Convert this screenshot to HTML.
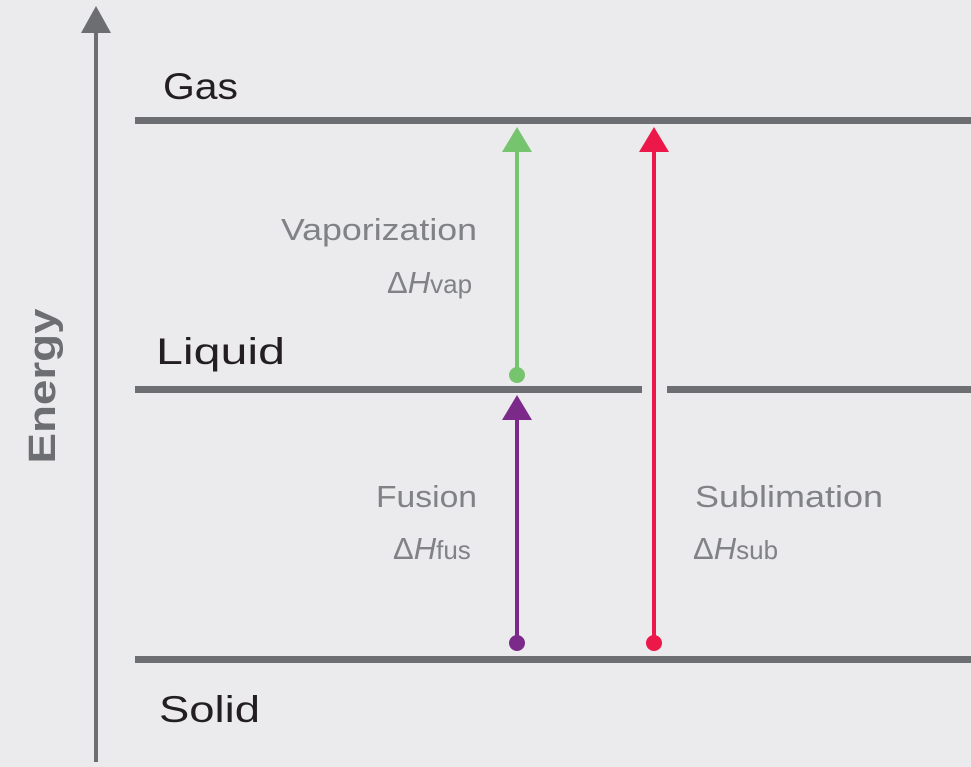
<!DOCTYPE html>
<html><head><style>
html,body{margin:0;padding:0;background:#ebebed;}
svg{display:block}
text{font-family:"Liberation Sans",sans-serif;}
</style></head><body>
<svg width="971" height="767" viewBox="0 0 971 767" xmlns="http://www.w3.org/2000/svg">
<rect width="971" height="767" fill="#ebebed"/>
<!-- axis -->
<line x1="96" y1="30" x2="96" y2="762" stroke="#6d6e71" stroke-width="4"/>
<polygon points="96,6 81,33 111,33" fill="#6d6e71"/>
<text transform="translate(55,386) rotate(-90)" text-anchor="middle" font-size="38" font-weight="bold" fill="#6d6e71" textLength="155" lengthAdjust="spacingAndGlyphs">Energy</text>
<!-- levels -->
<rect x="135" y="117" width="836" height="7" fill="#6d6e71"/>
<rect x="135" y="386" width="507" height="7" fill="#6d6e71"/>
<rect x="667" y="386" width="304" height="7" fill="#6d6e71"/>
<rect x="135" y="656" width="836" height="7" fill="#6d6e71"/>
<text x="163" y="99" font-size="37" fill="#231f20" textLength="75" lengthAdjust="spacingAndGlyphs">Gas</text>
<text x="156" y="364" font-size="37" fill="#231f20" textLength="129" lengthAdjust="spacingAndGlyphs">Liquid</text>
<text x="159" y="722" font-size="37" fill="#231f20" textLength="101" lengthAdjust="spacingAndGlyphs">Solid</text>
<!-- green -->
<line x1="517" y1="148" x2="517" y2="375" stroke="#77c46e" stroke-width="4"/>
<polygon points="517,127 502,152 532,152" fill="#77c46e"/>
<circle cx="517" cy="375" r="8" fill="#77c46e"/>
<!-- purple -->
<line x1="517" y1="416" x2="517" y2="643" stroke="#7c2a8a" stroke-width="4"/>
<polygon points="517,395 502,420 532,420" fill="#7c2a8a"/>
<circle cx="517" cy="643" r="8" fill="#7c2a8a"/>
<!-- red -->
<line x1="654" y1="148" x2="654" y2="643" stroke="#ec1849" stroke-width="4"/>
<polygon points="654,127 639,152 669,152" fill="#ec1849"/>
<circle cx="654" cy="643" r="8" fill="#ec1849"/>
<!-- labels -->
<g fill="#808285" font-size="31">
<text x="281" y="240" textLength="196" lengthAdjust="spacingAndGlyphs">Vaporization</text>
<text x="387" y="293">Δ<tspan font-style="italic">H</tspan><tspan font-size="26">vap</tspan></text>
<text x="376" y="507" textLength="101" lengthAdjust="spacingAndGlyphs">Fusion</text>
<text x="393" y="559">Δ<tspan font-style="italic">H</tspan><tspan font-size="26">fus</tspan></text>
<text x="695" y="507" textLength="188" lengthAdjust="spacingAndGlyphs">Sublimation</text>
<text x="693" y="559">Δ<tspan font-style="italic">H</tspan><tspan font-size="26">sub</tspan></text>
</g>
</svg>
</body></html>
